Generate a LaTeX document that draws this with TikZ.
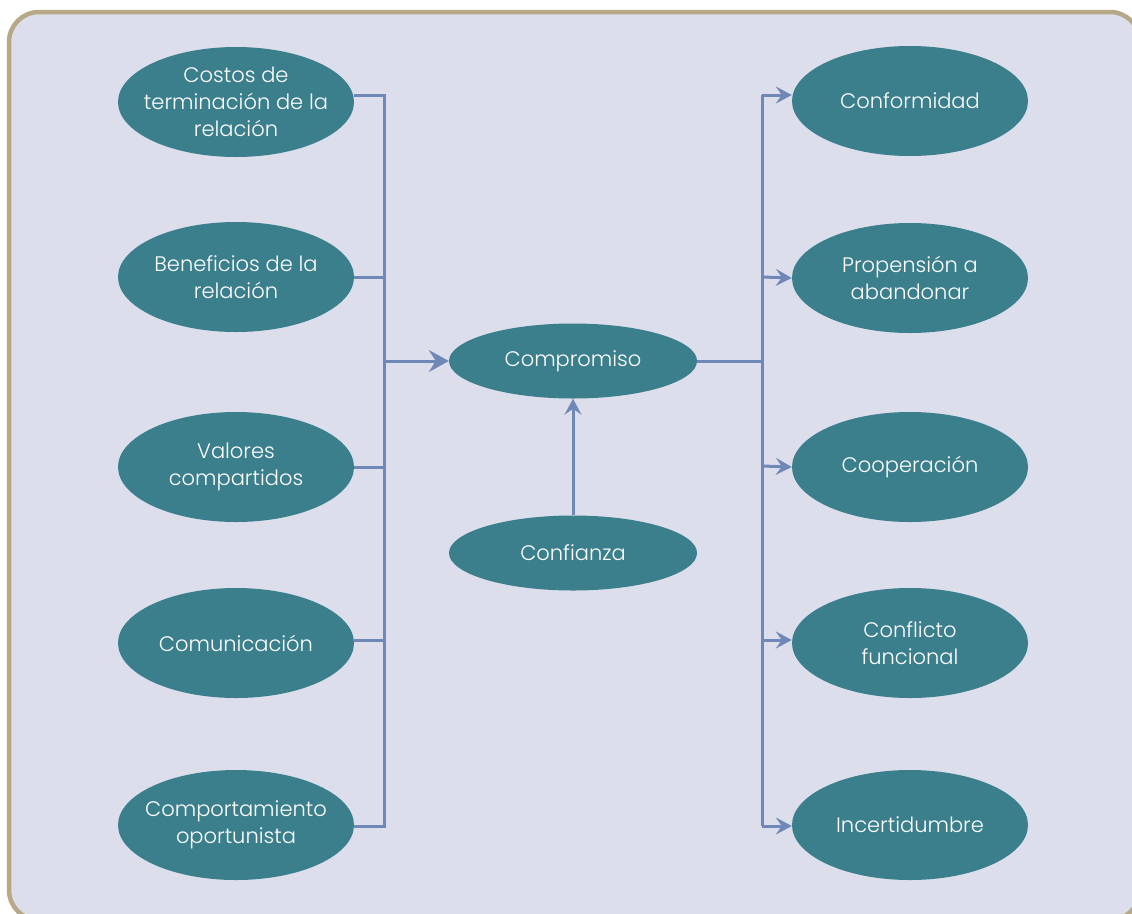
\documentclass[tikz,border=0pt]{standalone}
\usepackage{fontspec}
\setmainfont{Poppins}[UprightFont=* Light]
\usetikzlibrary{arrows.meta,shapes.geometric}
\definecolor{panelfill}{HTML}{DCDFEB}
\definecolor{panelline}{HTML}{B7A888}
\definecolor{bubble}{HTML}{3B7F8D}
\definecolor{wire}{HTML}{7088B8}
\begin{document}
\begin{tikzpicture}[x=1pt,y=-1pt,
  bub/.style={ellipse,fill=bubble,text=white,minimum width=236pt,minimum height=110pt,
    inner xsep=-10pt,inner ysep=0pt,align=center,font=\fontsize{21}{27}\selectfont},
  hub/.style={bub,minimum width=248pt,minimum height=75pt},
  wireline/.style={draw=wire,line width=3pt},
  tip/.style={-{Stealth[length=16pt,width=17pt,inset=6pt]}},
  bigtip/.style={-{Stealth[length=20pt,width=22pt,inset=7pt]}}]
\useasboundingbox (0,0) rectangle (1132,913);
\draw[panelline,fill=panelfill,line width=4.5pt,rounded corners=30pt] (9,12) rectangle (1140,920);

% causes
\node[bub] (c1) at (236,102) {Costos de\\terminación de la\\relación};
\node[bub] (c2) at (236,277) {Beneficios de la\\relación};
\node[bub] (c3) at (236,467) {Valores\\compartidos};
\node[bub] (c4) at (236,643) {Comunicación};
\node[bub] (c5) at (236,825) {Comportamiento\\oportunista};

% centre
\node[hub] (com) at (573,361) {Compromiso};
\node[hub] (con) at (573,553) {Confianza};

% outcomes
\node[bub] (o1) at (910,101) {Conformidad};
\node[bub] (o2) at (910,278) {Propensión a\\abandonar};
\node[bub] (o3) at (910,467) {Cooperación};
\node[bub] (o4) at (910,643) {Conflicto\\funcional};
\node[bub] (o5) at (910,825) {Incertidumbre};

% left bus
\coordinate (lb1) at (384,95);
\coordinate (lb5) at (384,826);
\coordinate (lbm) at (384,361);
\draw[wireline] (c1.east |- lb1) -- (lb1) -- (lb5) -- (c5.east |- lb5);
\draw[wireline] (c2.east) -- (c2.east -| lb1);
\draw[wireline] (c3.east) -- (c3.east -| lb1);
\draw[wireline] (c4.east) ++(0,-3) -- (384,640);
\draw[wireline,bigtip] (lbm) -- (com.west);

% right bus
\coordinate (rb1) at (762,95);
\coordinate (rb5) at (762,826);
\draw[wireline] (com.east) -- (com.east -| rb1);
\draw[wireline] (rb1) -- (rb5);
\draw[wireline,tip] (rb1) -- (o1.west |- rb1);
\draw[wireline,tip] (762,277) -- (o2.west);
\draw[wireline,tip] (762,466) -- (o3.west);
\draw[wireline,tip] (762,640) -- (o4.west |- 0,640);
\draw[wireline,tip] (rb5) -- (o5.west |- rb5);

% trust feeds commitment
\draw[wireline,tip] (con.north) -- (com.south);
\end{tikzpicture}
\end{document}
